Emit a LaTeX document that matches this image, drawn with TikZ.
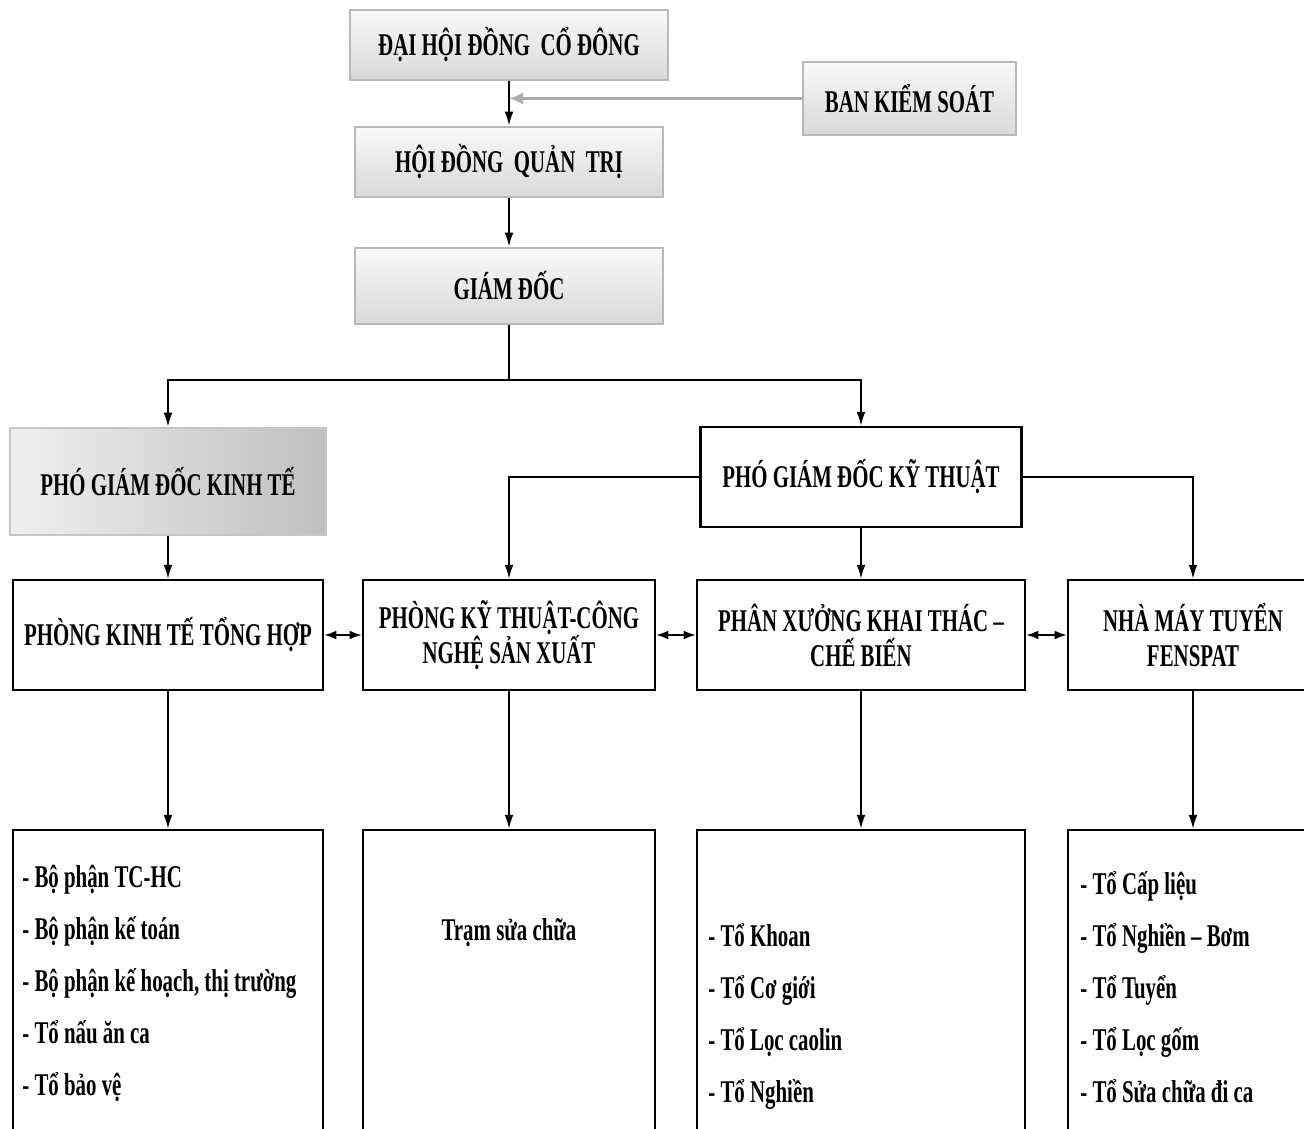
\documentclass[tikz,border=0pt]{standalone}
\usepackage{fontspec}
\setmainfont{Liberation Serif}[FakeStretch=0.66]
\usetikzlibrary{arrows.meta}

\begin{document}
\begin{tikzpicture}[
    font=\fontsize{18}{20}\selectfont\bfseries,
    greybox/.style={rectangle,draw=gray!55,line width=1.4pt,top color=gray!5,bottom color=gray!30,inner sep=0pt},
    darkbox/.style={rectangle,draw=gray!45,line width=1.4pt,left color=gray!12,right color=gray!50,inner sep=0pt},
    unitbox/.style={rectangle,draw,line width=1.2pt,fill=white,align=center,inner sep=0pt},
    listtext/.style={align=left,inner sep=0pt,font=\fontsize{18}{29.5}\selectfont\bfseries},
    link/.style={line width=1.1pt,-{Latex[length=8pt,width=5pt]}},
    twoway/.style={line width=1.1pt,{Latex[length=7pt,width=5pt]}-{Latex[length=7pt,width=5pt]}},
    control/.style={line width=2.2pt,gray!65,-{Latex[length=8pt,width=7pt]}}
]
    \useasboundingbox (0,0) rectangle (26.08,-22.56);
    % top nodes
    \node (dhdcd) at (10.18,-0.90) [greybox,minimum width=6.36cm,minimum height=1.40cm] {ĐẠI HỘI ĐỒNG\ \ CỔ ĐÔNG};
    \node (bks) at (18.19,-1.97) [greybox,minimum width=4.26cm,minimum height=1.46cm] {BAN KIỂM SOÁT};
    \node (hdqt) at (10.18,-3.24) [greybox,minimum width=6.16cm,minimum height=1.40cm] {HỘI ĐỒNG\ \ QUẢN\ \ TRỊ};
    \node (gd) at (10.18,-5.72) [greybox,minimum width=6.16cm,minimum height=1.52cm] {GIÁM ĐỐC};
    \coordinate (split) at (10.18,-7.60);
    % deputies
    \node (pgdkte) at (3.36,-9.63) [darkbox,minimum width=6.32cm,minimum height=2.14cm] {PHÓ GIÁM ĐỐC KINH TẾ};
    \node (pgdkth) at (17.22,-9.54) [unitbox,minimum width=6.42cm,minimum height=2.00cm] {PHÓ GIÁM ĐỐC KỸ THUẬT};
    % departments
    \node (pkt) at (3.36,-12.70) [unitbox,minimum width=6.20cm,minimum height=2.20cm] {PHÒNG KINH TẾ TỔNG HỢP};
    \node (pkyt) at (10.18,-12.70) [unitbox,minimum width=5.84cm,minimum height=2.20cm] {PHÒNG KỸ THUẬT-CÔNG\\NGHỆ SẢN XUẤT};
    \node (pxkt) at (17.22,-12.70) [unitbox,minimum width=6.56cm,minimum height=2.20cm] {PHÂN XƯỞNG KHAI THÁC –\\CHẾ BIẾN};
    \node (nmtf) at (23.86,-12.70) [unitbox,minimum width=5.00cm,minimum height=2.20cm] {NHÀ MÁY TUYỂN\\FENSPAT};
    % sub units
    \node (tobp1) at (3.36,-19.80) [unitbox,minimum width=6.20cm,minimum height=6.40cm] {};
    \node (tobp2) at (10.18,-19.80) [unitbox,minimum width=5.84cm,minimum height=6.40cm] {};
    \node (tobp3) at (17.22,-19.80) [unitbox,minimum width=6.56cm,minimum height=6.40cm] {};
    \node (tobp4) at (23.86,-19.80) [unitbox,minimum width=5.00cm,minimum height=6.40cm] {};
    \node (list1) at (0.44,-21.90) [listtext,anchor=base west] {- Bộ phận TC-HC\\- Bộ phận kế toán\\- Bộ phận kế hoạch, thị trường\\- Tổ nấu ăn ca\\- Tổ bảo vệ};
    \node (list2) at (10.18,-18.80) [listtext,anchor=base] {Trạm sửa chữa};
    \node (list3) at (14.16,-22.04) [listtext,anchor=base west] {- Tổ Khoan\\- Tổ Cơ giới\\- Tổ Lọc caolin\\- Tổ Nghiền};
    \node (list4) at (21.60,-22.04) [listtext,anchor=base west] {- Tổ Cấp liệu\\- Tổ Nghiền – Bơm\\- Tổ Tuyển\\- Tổ Lọc gốm\\- Tổ Sửa chữa đi ca};
    % paths
    \draw[link] (dhdcd.south) -- (hdqt.north);
    \draw[control] (bks.west) -- (dhdcd.south |- bks.west);
    \draw[link] (hdqt.south) -- (gd.north);
    \draw[line width=1.1pt] (gd.south) -- (split);
    \draw[link] (split) -| (pgdkte.north);
    \draw[link] (split) -| (pgdkth.north);
    \draw[link] (pgdkte.south) -- (pkt.north);
    \draw[link] (pgdkth.west) -| (pkyt.north);
    \draw[link] (pgdkth.south) -- (pxkt.north);
    \draw[link] (pgdkth.east) -| (nmtf.north);
    \draw[twoway] (pkt.east) -- (pkyt.west);
    \draw[twoway] (pkyt.east) -- (pxkt.west);
    \draw[twoway] (pxkt.east) -- (nmtf.west);
    \draw[link] (pkt.south) -- (tobp1.north);
    \draw[link] (pkyt.south) -- (tobp2.north);
    \draw[link] (pxkt.south) -- (tobp3.north);
    \draw[link] (nmtf.south) -- (tobp4.north);
\end{tikzpicture}
\end{document}
